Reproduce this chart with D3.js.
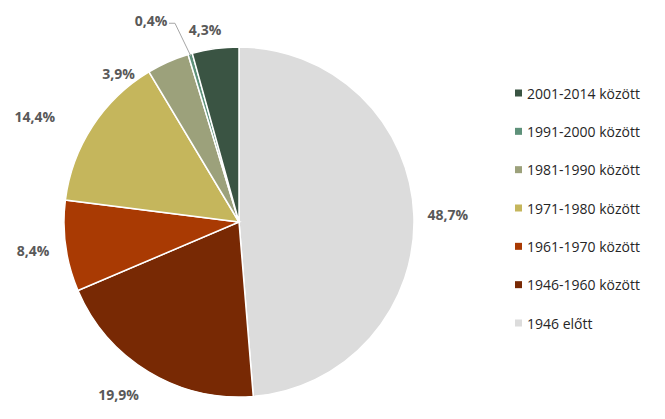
<!DOCTYPE html>
<html>
<head>
<meta charset="utf-8">
<script src="https://cdn.jsdelivr.net/npm/d3@7"></script>
<style>
  body { margin: 0; background: #fff; }
  text { font-family: "Open Sans", sans-serif; }
</style>
</head>
<body>
<div id="wrapper"></div>
<script>
// data (clockwise from 12 o'clock)
const categories = ['1946 előtt', '1946-1960 között', '1961-1970 között', '1971-1980 között',
  '1981-1990 között', '1991-2000 között', '2001-2014 között'];
const values = [48.7, 19.9, 8.4, 14.4, 3.9, 0.4, 4.3];
const labels = ['48,7%', '19,9%', '8,4%', '14,4%', '3,9%', '0,4%', '4,3%'];
const colors = ['#dcdcdc', '#782904', '#a93a03', '#c5b65c', '#9ca17b', '#5e917a', '#3a5443'];

// legend order (top to bottom)
const legendOrder = ['2001-2014 között', '1991-2000 között', '1981-1990 között', '1971-1980 között',
  '1961-1970 között', '1946-1960 között', '1946 előtt'];

const dimensions = { width: 665, height: 419 };
const cx = 239, cy = 222, radius = 175;

const svg = d3.select('#wrapper').append('svg')
  .attr('width', dimensions.width)
  .attr('height', dimensions.height);

const data = categories.map((c, i) => ({ cat: c, value: values[i], label: labels[i], color: colors[i] }));

const pie = d3.pie().sort(null).value(d => d.value);
const arcs = pie(data);

const arcGen = d3.arc().innerRadius(0).outerRadius(radius);

const bounds = svg.append('g')
  .attr('transform', `translate(${cx},${cy})`);

bounds.selectAll('path.slice')
  .data(arcs)
  .join('path')
  .attr('class', 'slice')
  .attr('d', arcGen)
  .attr('fill', d => d.data.color)
  .attr('stroke', '#fff')
  .attr('stroke-width', 1.5);

// labels - excel style "best fit", nudged per slice
const labelR = 208;
const nudge = {
  '1946 előtt': [1, 1],
  '1946-1960 között': [-13, -6],
  '1961-1970 között': [0, 0],
  '1971-1980 között': [-30, 8],
  '1981-1990 között': [-36, 42],
  '1991-2000 között': [-30, -2],
  '2001-2014 között': [-6, 14]
};
const mid = d => (d.startAngle + d.endAngle) / 2;

bounds.selectAll('text.lbl')
  .data(arcs)
  .join('text')
  .attr('class', 'lbl')
  .attr('x', d => Math.sin(mid(d)) * labelR + nudge[d.data.cat][0])
  .attr('y', d => -Math.cos(mid(d)) * labelR + nudge[d.data.cat][1])
  .attr('text-anchor', 'middle')
  .attr('dominant-baseline', 'central')
  .attr('font-size', 14)
  .attr('font-weight', 'bold')
  .attr('fill', '#595959')
  .text(d => d.data.label);

// leader line for the small slice
const small = arcs.find(d => d.data.cat === '1991-2000 között');
const sx = Math.sin(mid(small)) * labelR + nudge[small.data.cat][0];
const sy = -Math.cos(mid(small)) * labelR + nudge[small.data.cat][1];
bounds.append('polyline')
  .attr('points', [
    [sx + 18, sy + 3],
    [sx + 24, sy + 3],
    [Math.sin(mid(small)) * (radius - 2), -Math.cos(mid(small)) * (radius - 2)]
  ].map(p => p.join(',')).join(' '))
  .attr('fill', 'none')
  .attr('stroke', '#a6a6a6')
  .attr('stroke-width', 1);

// legend
const legendY = d3.scalePoint()
  .domain(legendOrder)
  .range([93, 323]);

const legend = svg.append('g');
const items = legend.selectAll('g')
  .data(legendOrder)
  .join('g')
  .attr('transform', d => `translate(515,${legendY(d)})`);

items.append('rect')
  .attr('x', 0)
  .attr('y', -3.5)
  .attr('width', 7)
  .attr('height', 7)
  .attr('fill', d => colors[categories.indexOf(d)]);

items.append('text')
  .attr('x', 12)
  .attr('y', 0)
  .attr('dominant-baseline', 'central')
  .attr('font-size', 14)
  .attr('fill', '#262626')
  .text(d => d);
</script>
</body>
</html>
